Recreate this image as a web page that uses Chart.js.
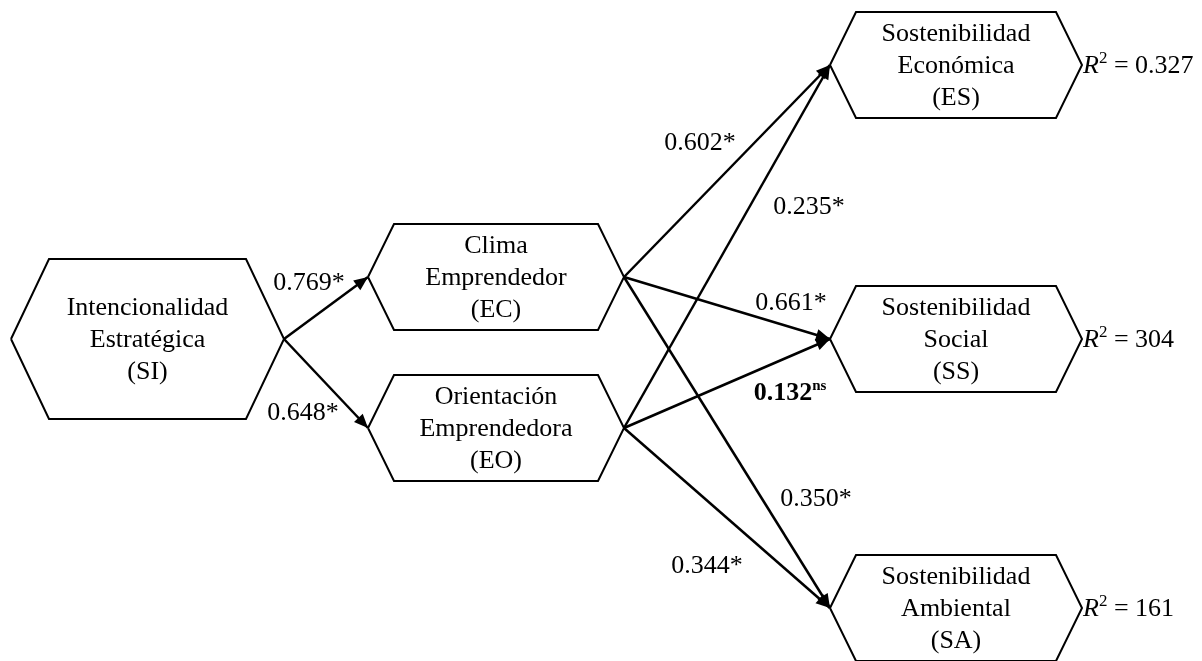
<!DOCTYPE html>
<html>
<head>
<meta charset="utf-8">
<script src="https://cdn.jsdelivr.net/npm/chart.js@4.4.1/dist/chart.umd.min.js"></script>
<style>
  html, body { margin: 0; padding: 0; background: #fff; }
  #wrap { width: 1202px; height: 661px; }
</style>
</head>
<body>
<div id="wrap"><canvas id="pathChart" width="1202" height="661"></canvas></div>
<script>
// 노드 (구성개념)
var nodeIds = ['SI', 'EC', 'EO', 'ES', 'SS', 'SA'];
var nodeLabels = [
  ['Intencionalidad', 'Estratégica', '(SI)'],
  ['Clima', 'Emprendedor', '(EC)'],
  ['Orientación', 'Emprendedora', '(EO)'],
  ['Sostenibilidad', 'Económica', '(ES)'],
  ['Sostenibilidad', 'Social', '(SS)'],
  ['Sostenibilidad', 'Ambiental', '(SA)']
];
var nodeX = [147.5, 496, 496, 956, 956, 956];
var nodeY = [339, 277, 428, 65, 339, 608];

// 경로 계수
var pathFrom = ['SI', 'SI', 'EC', 'EO', 'EC', 'EO', 'EC', 'EO'];
var pathTo = ['EC', 'EO', 'ES', 'ES', 'SS', 'SS', 'SA', 'SA'];
var pathCoef = ['0.769', '0.648', '0.602', '0.235', '0.661', '0.132', '0.350', '0.344'];
var pathSig = [true, true, true, true, true, false, true, true];
var labelX = [309, 303, 700, 809, 791, 790, 816, 707];
var labelY = [283, 413, 143, 207, 303, 393, 499, 566];

// R2
var r2Nodes = ['ES', 'SS', 'SA'];
var r2Values = ['0.327', '304', '161'];

// 도형 크기
var hexSize = {
  SI: { hw: 136.5, hh: 80, inset: 38 },
  EC: { hw: 128, hh: 53, inset: 26 },
  EO: { hw: 128, hh: 53, inset: 26 },
  ES: { hw: 126, hh: 53, inset: 26 },
  SS: { hw: 126, hh: 53, inset: 26 },
  SA: { hw: 126, hh: 53, inset: 26 }
};

function node(id) {
  var i = nodeIds.indexOf(id);
  return { x: nodeX[i], y: nodeY[i], s: hexSize[id] };
}

function hexPoints(id) {
  var n = node(id), s = n.s;
  return [
    { x: n.x - s.hw, y: n.y },
    { x: n.x - s.hw + s.inset, y: n.y - s.hh },
    { x: n.x + s.hw - s.inset, y: n.y - s.hh },
    { x: n.x + s.hw, y: n.y },
    { x: n.x + s.hw - s.inset, y: n.y + s.hh },
    { x: n.x - s.hw + s.inset, y: n.y + s.hh },
    { x: n.x - s.hw, y: n.y }
  ];
}

var datasets = [];
nodeIds.forEach(function (id) {
  datasets.push({
    label: id,
    data: hexPoints(id),
    showLine: true,
    borderColor: '#000',
    borderWidth: 2,
    pointRadius: 0,
    tension: 0
  });
});
pathFrom.forEach(function (f, i) {
  var a = node(f), b = node(pathTo[i]);
  datasets.push({
    label: f + '->' + pathTo[i],
    data: [{ x: a.x + a.s.hw, y: a.y }, { x: b.x - b.s.hw, y: b.y }],
    showLine: true,
    borderColor: '#000',
    borderWidth: 2.5,
    pointRadius: 0,
    tension: 0,
    isArrow: true
  });
});

var FONT = '"Liberation Serif", "Times New Roman", serif';

var diagramPlugin = {
  id: 'diagram',
  afterDatasetsDraw: function (chart) {
    var ctx = chart.ctx;
    var xs = chart.scales.x, ys = chart.scales.y;
    ctx.save();

    // 화살촉
    chart.data.datasets.forEach(function (ds) {
      if (!ds.isArrow) return;
      var p0 = ds.data[0], p1 = ds.data[1];
      var x0 = xs.getPixelForValue(p0.x), y0 = ys.getPixelForValue(p0.y);
      var x1 = xs.getPixelForValue(p1.x), y1 = ys.getPixelForValue(p1.y);
      var ang = Math.atan2(y1 - y0, x1 - x0);
      var len = 14, half = 6;
      ctx.beginPath();
      ctx.moveTo(x1, y1);
      ctx.lineTo(x1 - len * Math.cos(ang) + half * Math.sin(ang), y1 - len * Math.sin(ang) - half * Math.cos(ang));
      ctx.lineTo(x1 - len * Math.cos(ang) - half * Math.sin(ang), y1 - len * Math.sin(ang) + half * Math.cos(ang));
      ctx.closePath();
      ctx.fillStyle = '#000';
      ctx.fill();
    });

    ctx.fillStyle = '#000';
    ctx.textBaseline = 'middle';

    // 노드 텍스트
    ctx.textAlign = 'center';
    ctx.font = '26px ' + FONT;
    nodeIds.forEach(function (id, i) {
      var cx = xs.getPixelForValue(nodeX[i]);
      var cy = ys.getPixelForValue(nodeY[i]);
      nodeLabels[i].forEach(function (line, k) {
        ctx.fillText(line, cx, cy + 1 + (k - 1) * 32);
      });
    });

    // 경로 계수
    pathCoef.forEach(function (c, i) {
      var px = xs.getPixelForValue(labelX[i]);
      var py = ys.getPixelForValue(labelY[i]);
      if (pathSig[i]) {
        ctx.font = '26px ' + FONT;
        ctx.textAlign = 'center';
        ctx.fillText(c + '*', px, py);
      } else {
        ctx.font = 'bold 26px ' + FONT;
        var w1 = ctx.measureText(c).width;
        ctx.font = 'bold 15px ' + FONT;
        var w2 = ctx.measureText('ns').width;
        var left = px - (w1 + w2) / 2;
        ctx.textAlign = 'left';
        ctx.font = 'bold 26px ' + FONT;
        ctx.fillText(c, left, py);
        ctx.font = 'bold 15px ' + FONT;
        ctx.fillText('ns', left + w1, py - 7);
      }
    });

    // R2
    ctx.textAlign = 'left';
    r2Nodes.forEach(function (id, i) {
      var n = node(id);
      var px = xs.getPixelForValue(n.x + n.s.hw) + 1;
      var py = ys.getPixelForValue(n.y) + 1;
      ctx.font = 'italic 26px ' + FONT;
      ctx.fillText('R', px, py);
      var w = ctx.measureText('R').width;
      ctx.font = '17px ' + FONT;
      ctx.fillText('2', px + w, py - 7);
      w += ctx.measureText('2').width;
      ctx.font = '26px ' + FONT;
      ctx.fillText(' = ' + r2Values[i], px + w, py);
    });

    ctx.restore();
  }
};

var chart = new Chart(document.getElementById('pathChart').getContext('2d'), {
  type: 'scatter',
  data: { datasets: datasets },
  options: {
    responsive: false,
    animation: false,
    events: [],
    layout: { padding: 0 },
    plugins: {
      legend: { display: false },
      tooltip: { enabled: false }
    },
    scales: {
      x: { type: 'linear', min: 0, max: 1202, display: false },
      y: { type: 'linear', min: 0, max: 661, reverse: true, display: false }
    }
  },
  plugins: [diagramPlugin]
});
</script>
</body>
</html>
